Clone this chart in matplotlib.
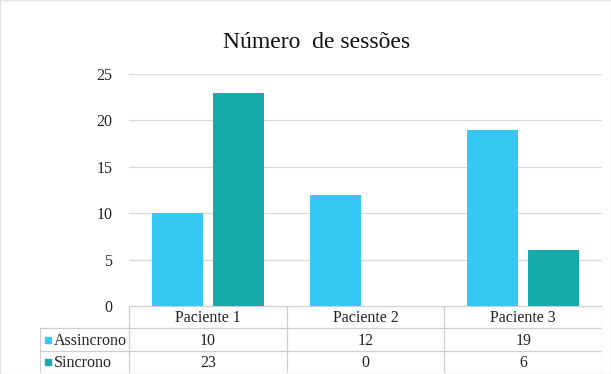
import matplotlib
matplotlib.use('Agg')
from matplotlib import pyplot as plt
from matplotlib.patches import Rectangle

pacientes = ['Paciente 1', 'Paciente 2', 'Paciente 3']
assincrono = [10, 12, 19]
sincrono = [23, 0, 6]
series = ['Assincrono', 'Sincrono']
cores = ['#35C8F3', '#17AAAA']
yticks = [0, 5, 10, 15, 20, 25]

plt.rcParams['font.family'] = ['Liberation Serif', 'DejaVu Serif']

W, H = 611, 374
fig = plt.figure(figsize=(W / 100, H / 100), dpi=100)
fig.add_artist(Rectangle((0, 0), 1, 1, transform=fig.transFigure, fill=False,
                         edgecolor='#E3E3E3', linewidth=1))

# plot area
ax = fig.add_axes([129 / W, (H - 306) / H, 473 / W, 232 / H])
x = [i + 0.5 for i in range(len(pacientes))]
largura = 0.323
desl = 0.192
ax.bar([v - desl for v in x], assincrono, largura, color=cores[0], zorder=3)
ax.bar([v + desl for v in x], sincrono, largura, color=cores[1], zorder=3)
ax.set_xlim(0, 3)
ax.set_ylim(0, 25)
ax.set_yticks(yticks)
ax.set_xticks([])
ax.grid(axis='y', color='#D9D9D9', linewidth=0.9, zorder=0)
for s in ax.spines.values():
    s.set_visible(False)
ax.tick_params(axis='y', length=0, pad=12, labelsize=11.5, labelcolor='#222222')

fig.text(316.5 / W, (H - 48) / H, 'Número  de sessões', ha='center', va='baseline',
         fontsize=17, color='#111111')

# data table under the chart
lab_w = 89 / 157.67
tax = fig.add_axes([40 / W, 1 / H, 562 / W, 67 / H])
tax.set_xlim(-lab_w, 3)
tax.set_ylim(3, 0)
tax.axis('off')
lc = '#CFCFCF'
tax.plot([0, 3], [0, 0], color=lc, lw=0.9)
for r in (1, 2, 3):
    tax.plot([-lab_w, 3], [r, r], color=lc, lw=0.9)
tax.plot([-lab_w, -lab_w], [1, 3], color=lc, lw=0.9)
for c in range(4):
    tax.plot([c, c], [0, 3], color=lc, lw=0.9)

for i, p in enumerate(pacientes):
    tax.text(i + 0.5, 0.55, p, ha='center', va='center', fontsize=11.5, color='#222222')
for r, (nome, vals, cor) in enumerate(zip(series, [assincrono, sincrono], cores)):
    yy = r + 1.5
    tax.plot([(48.5 - 129) / 157.67], [yy], marker='s', markersize=5, color=cor, lw=0)
    tax.text((54 - 129) / 157.67, yy + 0.05, nome, ha='left', va='center', fontsize=11.5,
             color='#222222')
    for i, v in enumerate(vals):
        tax.text(i + 0.5, yy + 0.05, str(v), ha='center', va='center', fontsize=11.5,
                 color='#222222')

fig.savefig('out.png', dpi=100)
